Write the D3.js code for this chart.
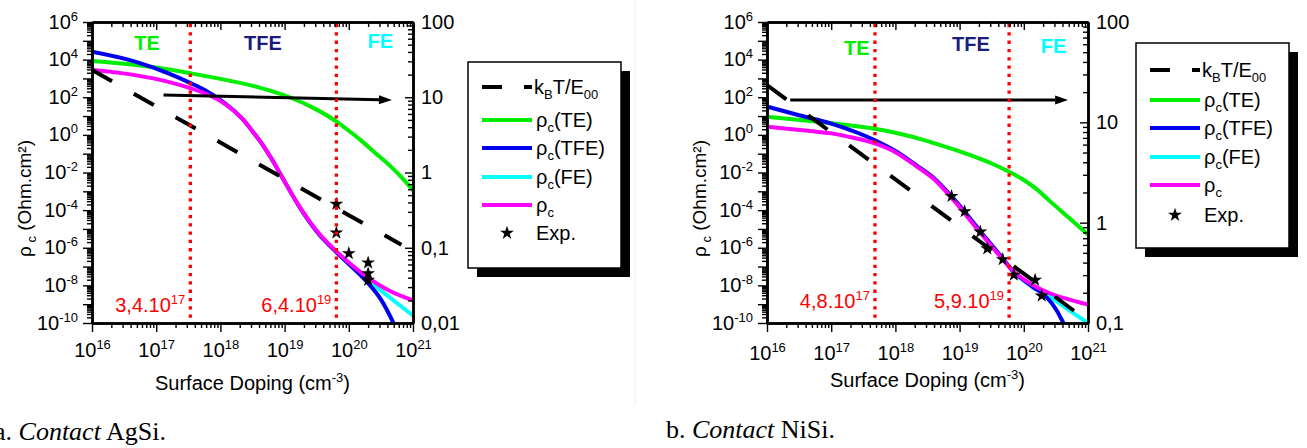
<!DOCTYPE html>
<html><head><meta charset="utf-8">
<script src="https://cdn.jsdelivr.net/npm/d3@7"></script>
<style>
body{margin:0;background:#fff;}
svg{display:block;font-family:"Liberation Sans",Arial,sans-serif;}
</style></head><body>
<svg id="c" width="1307" height="448"></svg>
<script>
// ---------------- DATA ----------------
const dopingDecades = [1e16,1e17,1e18,1e19,1e20,1e21];
const rhoDecades = [1e6,1e5,1e4,1e3,1e2,1e1,1e0,1e-1,1e-2,1e-3,1e-4,1e-5,1e-6,1e-7,1e-8,1e-9,1e-10];
const rhoLabelExps = [6,4,2,0,-2,-4,-6,-8,-10];
const ratioTicksA = [100,10,1,0.1,0.01];
const ratioLabelsA = ["100","10","1","0,1","0,01"];
const ratioTicksB = [100,10,1,0.1];
const ratioLabelsB = ["100","10","1","0,1"];
const regionNames = ["TE","TFE","FE"];
const legendNames = ["kT","TE","TFE","FE","rho","Exp."];

// Contact AgSi  [doping cm^-3, rho_c Ohm.cm^2]
const agsiTE = [[1e16,8.5e3],[3.16e16,6.0e3],[1e17,3.8e3],[3.5e17,1.86e3],[1e18,950],[1.7e18,660],[4.2e18,316],[1.2e19,100],[3.16e19,22],[6.8e19,4.5],[1e20,1.66],[1.5e20,0.56],[2.5e20,0.12],[4.4e20,0.0224],[6.6e20,5.6e-3],[1e21,1.1e-3]];
const agsiTFE = [[1e16,2.6e4],[4.7e16,7.8e3],[1.55e17,1.86e3],[3.5e17,550],[5.6e17,250],[8.3e17,110],[1.2e18,45],[1.7e18,16.8],[2.3e18,6.2],[3.1e18,1.68],[4.2e18,0.44],[6.3e18,0.052],[9.5e18,4.5e-3],[1.74e19,1.32e-4],[3.16e19,7.4e-6],[6.6e19,5.2e-7],[1e20,1.38e-7],[1.9e20,1.6e-8],[3.16e20,1.8e-9],[4.8e20,1.26e-10],[6.3e20,1.6e-11]];
const agsiFE = [[5e19,1.5e-6],[6.6e19,5.4e-7],[1e20,1.45e-7],[1.9e20,2.2e-8],[4.4e20,2.2e-9],[1e21,2.5e-10]];
const agsiTotal = [[1e16,2.8e3],[4.7e16,1.5e3],[1.55e17,660],[3.5e17,295],[5.6e17,166],[8.3e17,91],[1.2e18,42],[1.7e18,16.4],[2.3e18,6.1],[3.1e18,1.66],[4.2e18,0.44],[6.3e18,0.052],[9.5e18,4.5e-3],[1.74e19,1.4e-4],[3.16e19,8e-6],[6.6e19,5.8e-7],[1e20,1.66e-7],[1.9e20,2.95e-8],[4.4e20,5e-9],[1e21,1.6e-9]];
const agsiExp = [[6.4e19,2.1e-4],[6.4e19,6.3e-6],[1e20,5e-7],[2e20,1.6e-7],[2e20,4.3e-8],[2e20,1.9e-8]];
const agsiKTE00 = [[1e16,23],[1e18,2.5],[1e20,0.27],[6.6e20,0.11]];
const agsiBounds = [3.4e17,6.4e19];
const agsiBoundLabels = [["3,4.10","17"],["6,4.10","19"]];
const agsiArrow = [[1.3e17,131],[4.7e20,71]];

// Contact NiSi
const nisiTE = [[1e16,9.1],[4.7e16,5.4],[1e17,4.2],[4.8e17,2.1],[1e18,1.3],[3.16e18,0.47],[5.6e18,0.25],[1e19,0.132],[1.78e19,0.065],[3.16e19,0.030],[6e19,0.0105],[1e20,4e-3],[1.6e20,1.26e-3],[2.5e20,3.2e-4],[5e20,4e-5],[1e21,5e-6]];
const nisiTFE = [[1e16,32],[3.16e16,11],[1e17,4],[4.8e17,0.52],[1e18,0.14],[2.1e18,0.025],[4e18,5e-3],[8e18,4.2e-4],[2.1e19,7.6e-6],[4.8e19,2.5e-7],[6.9e19,5.2e-8],[1e20,1.9e-8],[1.4e20,7.9e-9],[2e20,3.5e-9],[2.8e20,1e-9],[4e20,1.26e-10],[5e20,2e-11]];
const nisiFE = [[5.6e19,1.2e-7],[6.9e19,5.2e-8],[1e20,1.8e-8],[2.6e20,2.4e-9],[5e20,5e-10],[1e21,1e-10]];
const nisiTotal = [[1e16,2.7],[4.7e16,1.6],[1e17,1.2],[2.2e17,0.7],[4.8e17,0.35],[1e18,0.12],[2.1e18,0.022],[4e18,4.4e-3],[8e18,3.5e-4],[2.1e19,6.3e-6],[4.8e19,2.2e-7],[6.9e19,5.6e-8],[1e20,2.1e-8],[2.6e20,3.7e-9],[5e20,1.8e-9],[1e21,9.5e-10]];
const nisiExp = [[7.5e18,5.5e-4],[1.2e19,8.5e-5],[2.1e19,7e-6],[2.7e19,9e-7],[4.7e19,2.4e-7],[7e19,3.6e-8],[1.5e20,1.9e-8],[1.9e20,2.8e-9]];
const nisiKTE00 = [[1e16,23.5],[1e18,2.7],[1e20,0.31],[6.3e20,0.13]];
const nisiBounds = [4.8e17,5.9e19];
const nisiBoundLabels = [["4,8.10","17"],["5,9.10","19"]];
const nisiArrow = [[2.3e16,71],[4.9e20,71]];

// ---------------- STYLE ----------------
const C = {TE:"#00ee00", TFE:"#0000ee", FE:"#00ffff", tot:"#ff00ff", red:"#ff0000", navy:"#1c1c7c"};

const charts = [
 {x0:92,x1:413,y0:22,y1:323, ratioDomain:[0.01,100], ratioTicks:ratioTicksA, ratioLabels:ratioLabelsA,
  TE:agsiTE,TFE:agsiTFE,FE:agsiFE,tot:agsiTotal,exp:agsiExp,kt:agsiKTE00,bounds:agsiBounds,boundLabels:agsiBoundLabels,arrow:agsiArrow,
  dash:"23,25", regionX:[7.2e16,4.6e18,3.1e20], regionY:[50,50,48], boundLabelY:312, tickPad:11, titleY:390,
  legend:{x:468,y:62,w:153,h:206,rows:[87,120,148,177,205,233]}, yTitleX:31,
  caption:{x:-6,y:440,pre:"a. ",name:" AgSi."}},
 {x0:767,x1:1088,y0:22,y1:323, ratioDomain:[0.1,100], ratioTicks:ratioTicksB, ratioLabels:ratioLabelsB,
  TE:nisiTE,TFE:nisiTFE,FE:nisiFE,tot:nisiTotal,exp:nisiExp,kt:nisiKTE00,bounds:nisiBounds,boundLabels:nisiBoundLabels,arrow:nisiArrow,
  dash:"24,27", regionX:[2.5e17,1.5e19,2.9e20], regionY:[55,51,53], boundLabelY:308, tickPad:14, titleY:387,
  legend:{x:1136,y:43,w:153,h:205,rows:[70,100,128,157,185,215]}, yTitleX:706,
  caption:{x:666,y:438,pre:"b. ",name:" NiSi."}}
];

const svg = d3.select("#c");
svg.append("line").attr("x1",635).attr("x2",635).attr("y1",0).attr("y2",405).attr("stroke","#eeeeee").attr("stroke-width",1);

function minorsOf(decades){
  const out=[]; const lo=d3.min(decades), hi=d3.max(decades);
  decades.forEach(d=>{ for(let k=2;k<=9;k++){ const v=d*k; if(v<hi*1.0001 && v>lo) out.push(v);} });
  return out;
}

charts.forEach((cf,ci)=>{
  const g = svg.append("g");
  const x = d3.scaleLog().domain([1e16,1e21]).range([cf.x0,cf.x1]);
  const y = d3.scaleLog().domain([1e-10,1e6]).range([cf.y1,cf.y0]);
  const yr = d3.scaleLog().domain(cf.ratioDomain).range([cf.y1,cf.y0]);
  const clipId = "clip"+ci;
  g.append("clipPath").attr("id",clipId).append("rect")
    .attr("x",cf.x0).attr("y",cf.y0).attr("width",cf.x1-cf.x0).attr("height",cf.y1-cf.y0);
  const plot = g.append("g").attr("clip-path",`url(#${clipId})`);
  const line = d3.line().x(d=>x(d[0])).y(d=>y(d[1])).curve(d3.curveMonotoneX);
  const lineR = d3.line().x(d=>x(d[0])).y(d=>yr(d[1]));

  [[cf.TE,C.TE],[cf.FE,C.FE],[cf.TFE,C.TFE],[cf.tot,C.tot]].forEach(([data,col])=>{
    plot.append("path").datum(data).attr("d",line).attr("fill","none").attr("stroke",col).attr("stroke-width",4);
  });
  plot.append("path").datum(cf.kt).attr("d",lineR).attr("fill","none").attr("stroke","#000")
    .attr("stroke-width",4).attr("stroke-dasharray",cf.dash);

  // arrow
  const a0=[x(cf.arrow[0][0]),y(cf.arrow[0][1])], a1=[x(cf.arrow[1][0]),y(cf.arrow[1][1])];
  const ang=Math.atan2(a1[1]-a0[1],a1[0]-a0[0]);
  const L=13, Wd=4.5;
  const base=[a1[0]-L*Math.cos(ang), a1[1]-L*Math.sin(ang)];
  g.append("line").attr("x1",a0[0]).attr("y1",a0[1]).attr("x2",base[0]).attr("y2",base[1])
    .attr("stroke","#000").attr("stroke-width",3);
  g.append("path").attr("d",`M${a1[0]},${a1[1]}L${base[0]-Wd*Math.sin(ang)},${base[1]+Wd*Math.cos(ang)}L${base[0]+Wd*Math.sin(ang)},${base[1]-Wd*Math.cos(ang)}Z`).attr("fill","#000");

  // stars
  const star = d3.symbol(d3.symbolStar,60);
  g.selectAll("path.star").data(cf.exp).join("path").attr("class","star")
    .attr("transform",d=>`translate(${x(d[0])},${y(d[1])})`).attr("d",star).attr("fill","#000");

  // boundaries
  cf.bounds.forEach((b,i)=>{
    g.append("line").attr("x1",x(b)).attr("x2",x(b)).attr("y1",cf.y0+2).attr("y2",cf.y1)
      .attr("stroke",C.red).attr("stroke-width",3.3).attr("stroke-dasharray","3.3,5");
    const t = g.append("text").attr("x",x(b)-5).attr("y",cf.boundLabelY).attr("text-anchor","end")
      .attr("fill",C.red).attr("font-size",20);
    t.append("tspan").text(cf.boundLabels[i][0]);
    t.append("tspan").attr("dy",-8).attr("font-size",13).text(cf.boundLabels[i][1]);
  });

  // region labels
  regionNames.forEach((n,i)=>{
    g.append("text").attr("x",x(cf.regionX[i])).attr("y",cf.regionY[i]).attr("text-anchor","middle")
      .attr("font-weight","bold").attr("font-size",20).attr("fill",[C.TE,C.navy,C.FE][i]).text(n);
  });

  // axes
  const styleAxis = sel=>{
    sel.select(".domain").attr("stroke","#000").attr("stroke-width",2.5);
    sel.selectAll(".tick line").attr("stroke","#000").attr("stroke-width",1.4);
  };
  const xMin = minorsOf(dopingDecades), yMin = minorsOf(rhoDecades), rMin = minorsOf(cf.ratioTicks);
  // bottom
  const gb = g.append("g").attr("transform",`translate(0,${cf.y1})`);
  gb.append("g").call(d3.axisBottom(x).tickValues(xMin).tickSize(5).tickFormat("").tickSizeOuter(0)).call(styleAxis);
  const gbm = gb.append("g").call(d3.axisBottom(x).tickValues(dopingDecades).tickSize(9).tickPadding(cf.tickPad).tickSizeOuter(0).tickFormat(()=>"")).call(styleAxis);
  gbm.selectAll(".tick text").attr("font-size",20).attr("fill","#000").each(function(d){
    const t=d3.select(this); t.append("tspan").text("10");
    t.append("tspan").attr("dy",-8).attr("font-size",13).text(Math.round(Math.log10(d)));
  });
  // top
  const gt = g.append("g").attr("transform",`translate(0,${cf.y0})`);
  gt.append("g").call(d3.axisTop(x).tickValues(xMin).tickSize(-5).tickFormat("").tickSizeOuter(0)).call(styleAxis);
  gt.append("g").call(d3.axisTop(x).tickValues(dopingDecades).tickSize(-8).tickFormat("").tickSizeOuter(0)).call(styleAxis);
  // left
  const gl = g.append("g").attr("transform",`translate(${cf.x0},0)`);
  gl.append("g").call(d3.axisLeft(y).tickValues(yMin).tickSize(5).tickFormat("").tickSizeOuter(0)).call(styleAxis);
  const glm = gl.append("g").call(d3.axisLeft(y).tickValues(rhoDecades).tickSize(9).tickPadding(5).tickSizeOuter(0).tickFormat(()=>"")).call(styleAxis);
  glm.selectAll(".tick text").attr("font-size",20).attr("fill","#000").attr("dy","0.3em").each(function(d){
    const e=Math.round(Math.log10(d));
    if(!rhoLabelExps.includes(e)) return;
    const t=d3.select(this); t.append("tspan").text("10");
    t.append("tspan").attr("dy",-8).attr("font-size",13).text(e);
  });
  // right
  const gr = g.append("g").attr("transform",`translate(${cf.x1},0)`);
  gr.append("g").call(d3.axisRight(yr).tickValues(rMin).tickSize(-5).tickFormat("").tickSizeOuter(0)).call(styleAxis);
  const grm = gr.append("g").call(d3.axisRight(yr).tickValues(cf.ratioTicks).tickSize(-8).tickPadding(8).tickSizeOuter(0)
     .tickFormat((d,i)=>cf.ratioLabels[i])).call(styleAxis);
  grm.selectAll(".tick text").attr("font-size",20).attr("fill","#000").attr("x",8);

  // axis titles
  const xt = g.append("text").attr("x",(cf.x0+cf.x1)/2).attr("y",cf.titleY).attr("text-anchor","middle").attr("font-size",20);
  xt.append("tspan").text("Surface Doping (cm");
  xt.append("tspan").attr("dy",-8).attr("font-size",13).text("-3");
  xt.append("tspan").attr("dy",8).text(")");
  const yt = g.append("text").attr("transform",`translate(${cf.yTitleX},${(cf.y0+cf.y1)/2+26}) rotate(-90)`)
     .attr("text-anchor","middle").attr("font-size",19);
  yt.append("tspan").text("ρ");
  yt.append("tspan").attr("dy",5).attr("font-size",13).text(" c");
  yt.append("tspan").attr("dy",-5).text(" (Ohm.cm²)");

  // legend
  const lg = cf.legend;
  g.append("rect").attr("x",lg.x+9).attr("y",lg.y+9).attr("width",lg.w).attr("height",lg.h).attr("fill","#000");
  g.append("rect").attr("x",lg.x).attr("y",lg.y).attr("width",lg.w).attr("height",lg.h).attr("fill","#fff").attr("stroke","#000").attr("stroke-width",1.5);
  const lx0=lg.x+14, lx1=lg.x+64, tx=lg.x+68;
  legendNames.forEach((n,i)=>{
    const ry=lg.rows[i];
    if(n==="kT"){
      g.append("line").attr("x1",lx0).attr("x2",lx1).attr("y1",ry).attr("y2",ry).attr("stroke","#000").attr("stroke-width",4).attr("stroke-dasharray","20,22");
      const t=g.append("text").attr("x",tx-2).attr("y",ry+7).attr("font-size",20);
      t.append("tspan").text("k"); t.append("tspan").attr("dy",5).attr("font-size",13).text("B");
      t.append("tspan").attr("dy",-5).text("T/E"); t.append("tspan").attr("dy",5).attr("font-size",13).text("00");
    } else if(n==="Exp."){
      g.append("path").attr("transform",`translate(${(lx0+lx1)/2},${ry})`).attr("d",d3.symbol(d3.symbolStar,60)).attr("fill","#000");
      g.append("text").attr("x",tx).attr("y",ry+7).attr("font-size",20).text("Exp.");
    } else {
      const col={TE:C.TE,TFE:C.TFE,FE:C.FE,rho:C.tot}[n];
      g.append("line").attr("x1",lx0).attr("x2",lx1).attr("y1",ry).attr("y2",ry).attr("stroke",col).attr("stroke-width",4);
      const t=g.append("text").attr("x",tx).attr("y",ry+7).attr("font-size",20);
      t.append("tspan").text("ρ"); t.append("tspan").attr("dy",5).attr("font-size",13).text("c");
      if(n!=="rho") t.append("tspan").attr("dy",-5).text("("+n+")");
    }
  });

  // caption
  const cp = g.append("text").attr("x",cf.caption.x).attr("y",cf.caption.y).attr("font-size",26)
     .attr("font-family","'Liberation Serif','Times New Roman',serif");
  cp.append("tspan").text(cf.caption.pre);
  cp.append("tspan").attr("font-style","italic").text("Contact");
  cp.append("tspan").text(cf.caption.name);
});
</script>
</body></html>
